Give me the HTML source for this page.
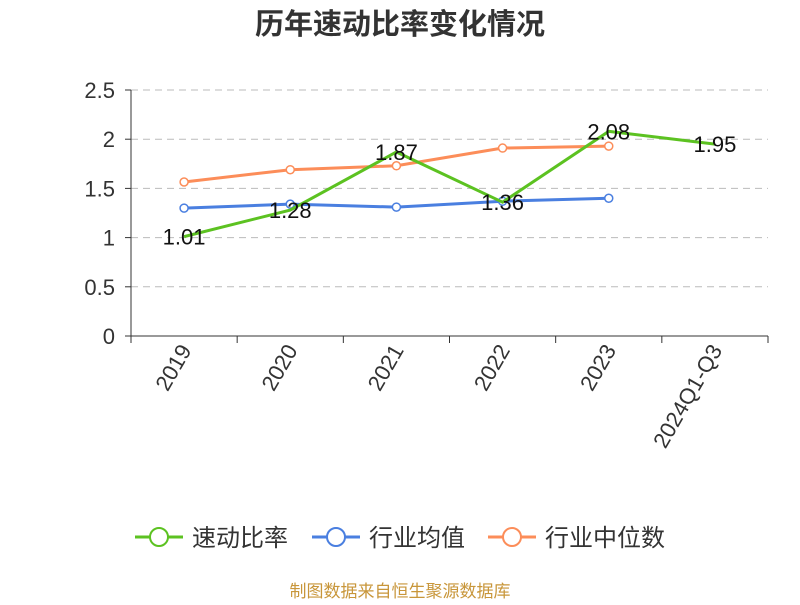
<!DOCTYPE html>
<html><head><meta charset="utf-8"><style>
body{margin:0;background:#fff;}
svg text{font-family:"Liberation Sans","Noto Sans CJK SC",sans-serif;}
</style></head><body>
<svg width="800" height="600" id="c">
<text x="400" y="34" text-anchor="middle" font-size="29" font-weight="bold" fill="#333">历年速动比率变化情况</text>
<g id="grid"></g><g id="axes"></g><g id="series"></g>
<g id="legend"></g>
<text x="400" y="597" text-anchor="middle" font-size="17" fill="#c8963a">制图数据来自恒生聚源数据库</text>
</svg>
<script>
const categories=["2019","2020","2021","2022","2023","2024Q1-Q3"];
const quickRatio=[1.01,1.28,1.87,1.36,2.08,1.95];
const industryAvg=[1.30,1.34,1.31,1.37,1.40];
const industryMedian=[1.565,1.69,1.73,1.91,1.93];
const yTicks=[0,0.5,1,1.5,2,2.5];
const NS="http://www.w3.org/2000/svg";
const x0=131,x1=768,yb=336,yt=90,ymax=2.5;
const bw=(x1-x0)/categories.length;
const X=i=>x0+bw*(i+0.5);
const Y=v=>yb-(v/ymax)*(yb-yt);
function mk(t,a,p){const e=document.createElementNS(NS,t);for(const k in a)e.setAttribute(k,a[k]);p.appendChild(e);return e;}
const grid=document.getElementById('grid'),axes=document.getElementById('axes'),ser=document.getElementById('series'),leg=document.getElementById('legend');
yTicks.forEach(v=>{
 if(v>0){const l=mk('line',{x1:x0,x2:x1,y1:Y(v),y2:Y(v),stroke:'#bbb','stroke-dasharray':'7,5'},grid);
 }
 const t=mk('text',{x:x0-16,y:Y(v)+8,'text-anchor':'end','font-size':22,fill:'#333'},axes);t.textContent=String(v);
 
 mk('line',{x1:x0-6,x2:x0,y1:Y(v),y2:Y(v),stroke:'#333'},axes);
});
let a=mk('line',{x1:x0,x2:x0,y1:yt,y2:yb,stroke:'#333'},axes);
a=mk('line',{x1:x0,x2:x1,y1:yb,y2:yb,stroke:'#333'},axes);
for(let i=0;i<=categories.length;i++)mk('line',{x1:x0+bw*i,x2:x0+bw*i,y1:yb,y2:yb+7,stroke:'#333'},axes);
categories.forEach((c,i)=>{const t=mk('text',{x:X(i)+8,y:yb+14,'text-anchor':'end','font-size':22,fill:'#333',transform:`rotate(-60 ${X(i)+8} ${yb+14})`},axes);t.textContent=c;
 });
function line(vals,color,markers,name){
 const g=mk('g',{},ser);
 mk('polyline',{points:vals.map((v,i)=>X(i)+','+Y(v)).join(' '),fill:'none',stroke:color,'stroke-width':3},g);
 if(markers)vals.forEach((v,i)=>{const c=mk('circle',{cx:X(i),cy:Y(v),r:4,fill:'#fff',stroke:color,'stroke-width':1.5},g);
  });
}
line(industryMedian,'#fc8d59',true,'industry-median-line');
line(industryAvg,'#4a7fe0',true,'industry-avg-line');
line(quickRatio,'#5cc221',false,'quick-ratio-line');
quickRatio.forEach((v,i)=>{const t=mk('text',{x:X(i),y:Y(v)+8,'text-anchor':'middle','font-size':22,fill:'#111'},ser);t.textContent=v.toFixed(2);
 });
[["速动比率","#5cc221",135],["行业均值","#4a7fe0",312],["行业中位数","#fc8d59",488]].forEach(([n,c,x])=>{
 const g=mk('g',{},leg);
 mk('line',{x1:x,x2:x+48,y1:537,y2:537,stroke:c,'stroke-width':3},g);
 mk('circle',{cx:x+24,cy:537,r:9,fill:'#fff',stroke:c,'stroke-width':2},g);
 const t=mk('text',{x:x+57,y:546,'font-size':24,fill:'#333'},g);t.textContent=n;
});
</script>
</body></html>
